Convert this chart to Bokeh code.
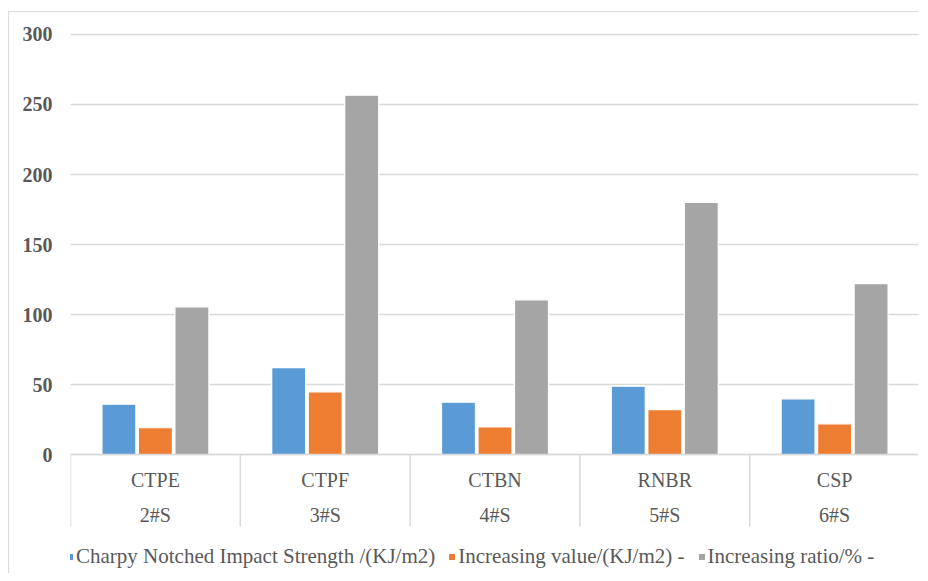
from bokeh.plotting import figure
from bokeh.models import Range1d, FixedTicker, ColumnDataSource, Legend
from bokeh.core.properties import value
from bokeh.embed import file_html
from bokeh.resources import INLINE

# ---- data ----
materials = ["CTPE", "CTPF", "CTBN", "RNBR", "CSP"]
samples = ["2#S", "3#S", "4#S", "5#S", "6#S"]
impact_strength = [35.9, 62.1, 37.4, 48.8, 39.8]
increasing_value = [19.1, 44.8, 19.8, 32.1, 21.9]
increasing_ratio = [105.5, 256.6, 110.5, 180.0, 122.0]
series_names = ["Charpy Notched Impact Strength /(KJ/m2)",
                "Increasing value/(KJ/m2) -",
                "Increasing ratio/% -"]
y_ticks = [0, 50, 100, 150, 200, 250, 300]

colors = ["#5b9bd5", "#ed7d31", "#a5a5a5"]
txt = "#595959"
grid = "#d9d9d9"
FONT = "'Liberation Serif'"

n = len(materials)
centers = [i + 0.5 for i in range(n)]

p = figure(width=910, height=562, output_backend="svg", toolbar_location=None,
           x_range=Range1d(0, n), y_range=Range1d(-85.71, 303.57),
           min_border_left=61, min_border_right=0, min_border_top=17, min_border_bottom=0)
p.styles = {"border-left": "1px solid #d9d9d9", "border-top": "1px solid #d9d9d9",
            "margin-left": "8px", "margin-top": "11px"}
p.outline_line_color = None
p.xaxis.visible = False
p.xgrid.grid_line_color = None
p.ygrid.grid_line_color = grid
p.ygrid.grid_line_width = 1.3
p.ygrid.ticker = FixedTicker(ticks=y_ticks)

yax = p.yaxis[0]
yax.ticker = FixedTicker(ticks=y_ticks)
yax.axis_line_color = None
yax.major_tick_line_color = None
yax.minor_tick_line_color = None
yax.major_tick_out = 0
yax.major_tick_in = 0
yax.major_label_standoff = 18
yax.major_label_text_font = FONT
yax.major_label_text_font_style = "bold"
yax.major_label_text_font_size = "20px"
yax.major_label_text_color = txt

offsets = [-0.215, 0.0, 0.215]
series = [impact_strength, increasing_value, increasing_ratio]
renderers = []
for k in range(3):
    src = ColumnDataSource(dict(x=[c + offsets[k] for c in centers], top=series[k]))
    r = p.vbar(x="x", top="top", bottom=0, width=0.2, source=src,
               fill_color=colors[k], line_color="white", line_width=1.2)
    renderers.append(r)

# category axis box
y_box = -51.4
p.segment(x0=[0], y0=[0], x1=[n], y1=[0], line_color=grid, line_width=1.5)
p.segment(x0=list(range(n + 1)), y0=[0] * (n + 1), x1=list(range(n + 1)), y1=[y_box] * (n + 1),
          line_color=grid, line_width=1.5)
p.text(x=centers, y=[-17.9] * n, text=materials, text_align="center", text_baseline="middle",
       text_font=value(FONT), text_font_size="20px", text_color=txt)
p.text(x=centers, y=[-42.9] * n, text=samples, text_align="center", text_baseline="middle",
       text_font=value(FONT), text_font_size="20px", text_color=txt)

legend = Legend(items=[(series_names[k], [renderers[k]]) for k in range(3)],
                orientation="horizontal", location=(-5, 5))
legend.background_fill_alpha = 0
legend.border_line_color = None
legend.padding = 0
legend.margin = 0
legend.spacing = 12
legend.glyph_width = 9
legend.glyph_height = 9
legend.label_standoff = 2
legend.label_height = 21
legend.label_text_font = FONT
legend.label_text_font_size = "21px"
legend.label_text_color = txt
p.add_layout(legend)

open("out.html", "w").write(file_html(p, INLINE))
